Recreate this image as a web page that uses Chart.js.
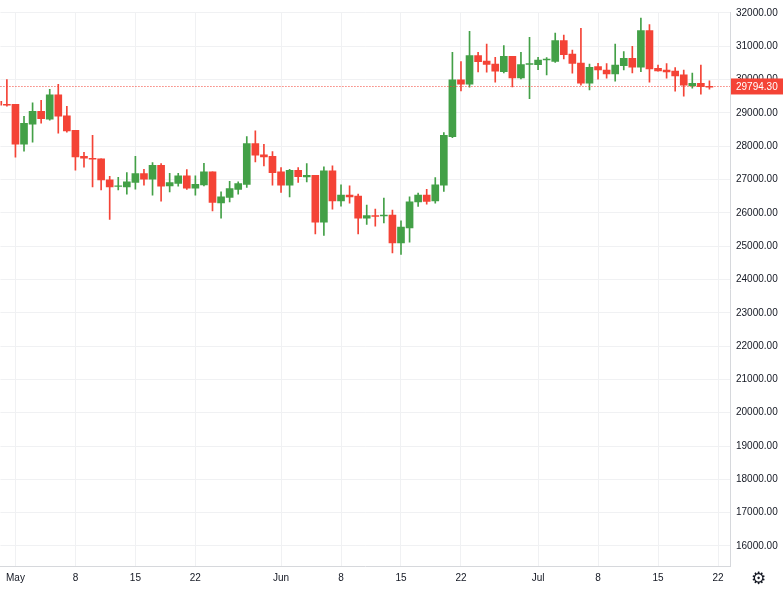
<!DOCTYPE html>
<html>
<head>
<meta charset="utf-8">
<script src="https://cdn.jsdelivr.net/npm/chart.js@4/dist/chart.umd.min.js"></script>
<style>
  body { margin: 0; background: #fff; }
  #wrap { position: relative; width: 783px; height: 589px; }
  #gear { position: absolute; left: 751px; top: 568px; font: 17px "DejaVu Sans"; color: #131722; }
</style>
</head>
<body>
<div id="wrap">
  <canvas id="chart" width="783" height="589"></canvas>
  <div id="gear">⚙</div>
</div>
<script>
// day 0 = May 1
const days = []
for (let d = -2; d <= 81; d++) days.push(d)

const opens = [29350,29260,29260,28060,28660,29050,28810,29540,28910,28480,27700,27640,27620,26990,26790,26780,26910,27180,27010,27430,26810,26880,27110,26740,26840,27230,26300,26460,26700,26850,28080,27740,27700,27230,26830,27280,27080,27130,25720,27260,26360,26530,26500,25840,25920,25910,25930,25100,25550,26330,26530,26360,26830,28290,29990,29860,30720,30560,30470,30240,30700,30050,30460,30450,30590,30550,31170,30770,30500,29890,30390,30290,30170,30420,30640,30370,31470,30340,30290,30260,30140,29810,29890,29800]
const closes = [29230,29250,28060,28690,29050,28830,29540,28900,28460,27680,27640,27610,26990,26780,26790,26930,27180,27010,27430,26800,26910,27110,26740,26860,27230,26310,26480,26730,26880,28080,27730,27680,27210,26830,27280,27090,27130,25720,27260,26360,26530,26480,25840,25920,25900,25930,25100,25570,26330,26530,26340,26840,28330,29990,29860,30720,30540,30460,30250,30700,30050,30450,30470,30590,30610,31170,30750,30490,29890,30370,30290,30170,30440,30640,30370,31470,30320,30260,30230,30110,29830,29890,29790,29794.3]
const highs = [29400,30000,29260,28900,29300,29380,29710,29860,29200,28480,27820,28330,27620,27100,27070,27210,27700,27310,27510,27480,27190,27190,27300,27110,27490,27230,26630,26950,26930,28290,28460,28060,27840,27360,27310,27360,27480,27130,27380,27410,26840,26810,26560,26230,26110,26440,26080,25760,26480,26590,26710,27060,28410,30820,30540,31450,30820,31070,30670,31020,30700,30820,31270,30670,30660,31400,31340,30890,31540,30470,30490,30480,31070,30840,31000,31850,31650,30440,30480,30360,30290,30200,30440,29960]
const lows = [29200,29200,27670,27850,28120,28690,28780,28390,28420,27280,27370,26780,26690,25800,26690,26560,26710,26830,26530,26350,26630,26800,26700,26530,26810,26060,25840,26330,26560,26760,27530,27410,26830,26610,26480,26910,26930,25370,25320,26110,26200,26290,25370,25650,25600,25700,24800,24750,25120,26190,26260,26290,26640,28260,29660,29770,30230,30220,29920,30200,29780,30020,29430,30300,30140,30520,30620,30190,29830,29690,30010,30040,29950,30290,30200,30240,29920,30250,30040,29650,29500,29740,29560,29710]

const tickDays = [0,7,14,21,31,38,45,52,61,68,75,82]
const tickLabels = ['May','8','15','22','Jun','8','15','22','Jul','8','15','22']
const lastPrice = 29794.30

const UP = '#43a047', DOWN = '#f44336'
const colorOf = i => closes[i] >= opens[i] ? UP : DOWN

const bodies = days.map((d, i) => {
  let a = opens[i], b = closes[i]
  if (Math.abs(a - b) < 25) b = a + (b >= a ? 25 : -25)
  return { x: d, y: [a, b] }
})
const wicks = days.map((d, i) => ({ x: d, y: [lows[i], highs[i]] }))

const priceTag = {
  id: 'priceTag',
  afterDatasetsDraw(chart) {
    const { ctx, chartArea, scales } = chart
    const y = scales.y.getPixelForValue(lastPrice)
    ctx.save()
    ctx.strokeStyle = DOWN
    ctx.lineWidth = 1
    ctx.setLineDash([1, 2])
    ctx.beginPath()
    ctx.moveTo(chartArea.left, Math.round(y) + 0.5)
    ctx.lineTo(chartArea.right, Math.round(y) + 0.5)
    ctx.stroke()
    ctx.setLineDash([])
    ctx.fillStyle = DOWN
    ctx.fillRect(chartArea.right + 1, y - 8, 52, 16)
    ctx.fillStyle = '#fff'
    ctx.font = '10px "Liberation Sans"'
    ctx.textBaseline = 'middle'
    ctx.fillText(lastPrice.toFixed(2), chartArea.right + 6, y + 0.5)
    ctx.restore()
  }
}

new Chart(document.getElementById('chart'), {
  type: 'bar',
  data: {
    datasets: [
      { data: wicks, backgroundColor: days.map((d, i) => colorOf(i)), barThickness: 1, grouped: false, order: 2 },
      { data: bodies, backgroundColor: days.map((d, i) => colorOf(i)), barThickness: 7, grouped: false, order: 1 }
    ]
  },
  options: {
    responsive: false,
    animation: false,
    plugins: { legend: { display: false }, tooltip: { enabled: false } },
    layout: { padding: { top: -7, left: 0, right: 0, bottom: 0 } },
    scales: {
      x: {
        type: 'linear',
        offset: false,
        min: -1.75, max: 83.4,
        afterBuildTicks: axis => { axis.ticks = tickDays.map(v => ({ value: v })) },
        afterFit: axis => { axis.height = 23 },
        ticks: {
          callback: v => tickLabels[tickDays.indexOf(v)],
          color: '#131722', font: { size: 10, family: 'Liberation Sans' }, maxRotation: 0, padding: 6
        },
        grid: { color: '#f0f1f3', drawTicks: false, offset: false },
        border: { color: '#d6d8dc' }
      },
      y: {
        position: 'right',
        min: 15398, max: 32030,
        afterBuildTicks: axis => {
          axis.ticks = []
          for (let v = 16000; v <= 32000; v += 1000) axis.ticks.push({ value: v })
        },
        afterFit: axis => { axis.width = 53 },
        ticks: {
          callback: v => v.toFixed(2),
          color: '#131722', font: { size: 10, family: 'Liberation Sans' }, padding: 6
        },
        grid: { color: '#f0f1f3', drawTicks: false },
        border: { color: '#d6d8dc' }
      }
    }
  },
  plugins: [priceTag]
})
</script>
</body>
</html>
